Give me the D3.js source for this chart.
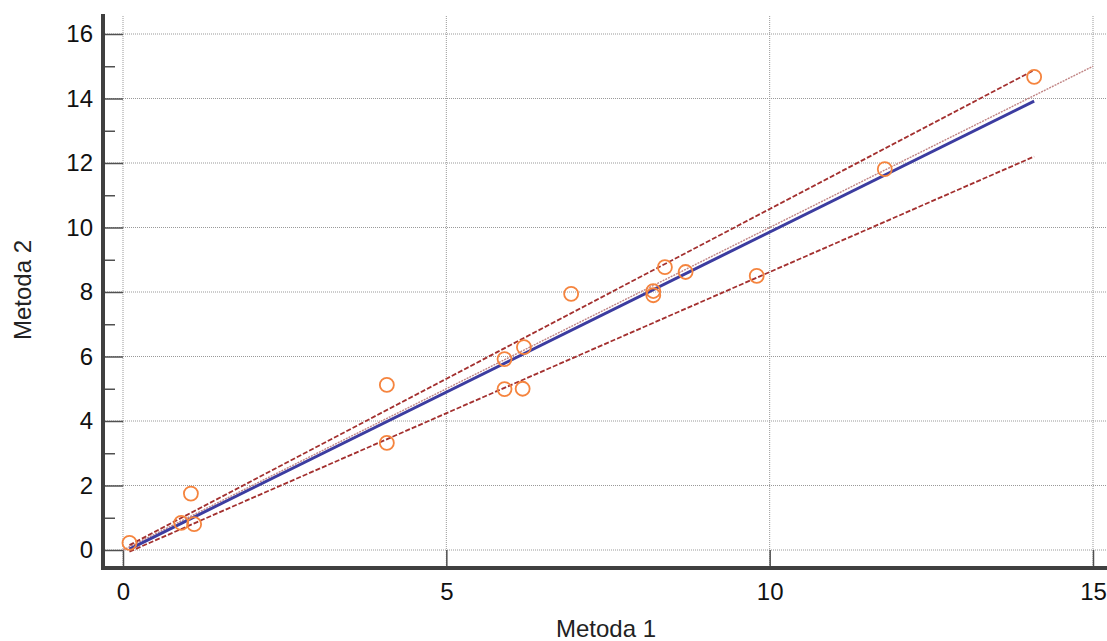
<!DOCTYPE html>
<html>
<head>
<meta charset="utf-8">
<script src="https://cdn.jsdelivr.net/npm/d3@7"></script>
<style>
  body { margin: 0; background: #fff; }
  text { font-family: "Liberation Sans", Arial, sans-serif; }
</style>
</head>
<body>
<div id="chart"></div>
<script>
const metoda1 = [0.1, 1.05, 0.9, 1.1, 4.08, 4.08, 5.9, 5.9, 6.2, 6.18, 6.93, 8.2, 8.2, 8.38, 8.7, 9.8, 11.78, 14.09];
const metoda2 = [0.22, 1.75, 0.84, 0.8, 5.12, 3.32, 5.92, 4.99, 6.29, 5.0, 7.94, 8.03, 7.9, 8.77, 8.62, 8.5, 11.81, 14.67];

// regression line and its confidence limits (end points)
const fitX = [0.1, 14.09];
const fitY = [0.03, 13.92];
const upperY = [0.15, 14.88];
const lowerY = [-0.05, 12.2];
// line of identity
const identX = [0, 15];
const identY = [0, 15];

const xTicks = [0, 5, 10, 15];
const yTicks = [0, 2, 4, 6, 8, 10, 12, 14, 16];
const yMinor = [1, 3, 5, 7, 9, 11, 13, 15];

const width = 1107, height = 641;
const plotLeft = 103, plotRight = 1107, plotTop = 14, plotBottom = 568;

const svg = d3.select("#chart")
  .append("svg")
    .attr("width", width)
    .attr("height", height);

const x = d3.scaleLinear().domain([0, 15]).range([123, 1093]);
const y = d3.scaleLinear().domain([0, 16]).range([550, 34]);

// grid
svg.append("g")
  .selectAll("line")
  .data(yTicks)
  .join("line")
    .attr("x1", plotLeft).attr("x2", plotRight)
    .attr("y1", d => y(d)).attr("y2", d => y(d))
    .attr("stroke", "#999").attr("stroke-width", 1)
    .attr("stroke-dasharray", "1,1");

svg.append("g")
  .selectAll("line")
  .data(xTicks)
  .join("line")
    .attr("x1", d => x(d)).attr("x2", d => x(d))
    .attr("y1", plotTop + 2).attr("y2", plotBottom)
    .attr("stroke", "#999").attr("stroke-width", 1)
    .attr("stroke-dasharray", "1,1");

// axes (ticks point inward)
svg.append("g")
  .attr("transform", `translate(${plotLeft},0)`)
  .call(d3.axisLeft(y).tickValues(yTicks).tickSize(-20).tickPadding(10));
svg.append("g")
  .attr("transform", `translate(${plotLeft},0)`)
  .call(d3.axisLeft(y).tickValues(yMinor).tickSize(-12).tickFormat(""));
svg.append("g")
  .attr("transform", `translate(0,${plotBottom})`)
  .call(d3.axisBottom(x).tickValues(xTicks).tickSize(-18).tickPadding(15));

svg.selectAll(".domain").remove();
svg.selectAll(".tick line").attr("stroke", "#505050").attr("stroke-width", 1.5);
svg.selectAll(".tick text")
  .style("font-size", "24px")
  .attr("fill", "#111");

// thick axis lines
svg.append("line")
  .attr("x1", plotLeft).attr("x2", plotLeft)
  .attr("y1", plotTop).attr("y2", plotBottom + 2)
  .attr("stroke", "#404040").attr("stroke-width", 4);
svg.append("line")
  .attr("x1", plotLeft - 2).attr("x2", plotRight)
  .attr("y1", plotBottom).attr("y2", plotBottom)
  .attr("stroke", "#404040").attr("stroke-width", 4);

const line = d3.line().x(d => x(d[0])).y(d => y(d[1]));

// line of identity
svg.append("path")
  .attr("d", line(d3.zip(identX, identY)))
  .attr("fill", "none")
  .attr("stroke", "#c08585").attr("stroke-width", 1.4)
  .attr("stroke-dasharray", "2,1");

// confidence limits
[upperY, lowerY].forEach(ys => {
  svg.append("path")
    .attr("d", line(d3.zip(fitX, ys)))
    .attr("fill", "none")
    .attr("stroke", "#a3302f").attr("stroke-width", 1.8)
    .attr("stroke-dasharray", "5,2");
});

// regression line
svg.append("path")
  .attr("d", line(d3.zip(fitX, fitY)))
  .attr("fill", "none")
  .attr("stroke", "#3c3ca0").attr("stroke-width", 3);

// points
svg.append("g")
  .selectAll("circle")
  .data(d3.zip(metoda1, metoda2))
  .join("circle")
    .attr("cx", d => x(d[0]))
    .attr("cy", d => y(d[1]))
    .attr("r", 7)
    .attr("fill", "none")
    .attr("stroke", "#f5843e")
    .attr("stroke-width", 1.8);

// axis titles
svg.append("text")
  .attr("x", 606).attr("y", 637)
  .attr("text-anchor", "middle")
  .style("font-size", "24px")
  .attr("fill", "#222")
  .text("Metoda 1");

svg.append("text")
  .attr("transform", "translate(31,290) rotate(-90)")
  .attr("text-anchor", "middle")
  .style("font-size", "24px")
  .attr("fill", "#222")
  .text("Metoda 2");
</script>
</body>
</html>
